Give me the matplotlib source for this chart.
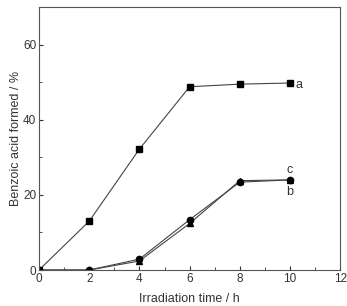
import matplotlib
matplotlib.use("Agg")
import matplotlib.pyplot as plt
from matplotlib.ticker import MultipleLocator

plt.rcParams['font.family'] = ['Liberation Sans', 'DejaVu Sans']

time_h = [0, 2, 4, 6, 8, 10]
series_a = [0, 13, 32.2, 48.8, 49.5, 49.8]
series_b = [0, 0, 2.4, 12.4, 23.8, 24.0]
series_c = [0, 0, 2.9, 13.4, 23.4, 24.0]

fig = plt.figure(figsize=(3.47, 3.06), dpi=100)
ax = fig.add_axes([0.1124, 0.1176, 0.868, 0.859])

ax.plot(time_h, series_b, color='#444444', lw=0.8, marker='^', ms=4.5, mfc='black', mec='black')
ax.plot(time_h, series_c, color='#444444', lw=0.8, marker='o', ms=4.5, mfc='black', mec='black')
ax.plot(time_h, series_a, color='#444444', lw=0.8, marker='s', ms=4, mfc='black', mec='black')

ax.text(10.2, series_a[-1] - 0.5, 'a', fontsize=9, va='center', ha='left', color='#333333')
ax.text(10.0, series_b[-1] - 3.3, 'b', fontsize=9, va='center', ha='center', color='#333333')
ax.text(10.0, series_c[-1] + 2.6, 'c', fontsize=9, va='center', ha='center', color='#333333')

ax.set_xlim(0, 12)
ax.set_ylim(0, 70)
ax.xaxis.set_major_locator(MultipleLocator(2))
ax.xaxis.set_minor_locator(MultipleLocator(1))
ax.yaxis.set_major_locator(MultipleLocator(20))
ax.yaxis.set_minor_locator(MultipleLocator(10))
ax.tick_params(which='both', direction='in', labelsize=8.5, colors='#333333', pad=2)
ax.tick_params(which='major', length=3)
ax.tick_params(which='minor', length=2)
for s in ax.spines.values():
    s.set_color('#555555')
    s.set_linewidth(0.8)

ax.set_xlabel('Irradiation time / h', fontsize=9, color='#333333', labelpad=6)
ax.set_ylabel('Benzoic acid formed / %', fontsize=9, color='#333333', labelpad=1)

fig.savefig('out.png', dpi=100)
